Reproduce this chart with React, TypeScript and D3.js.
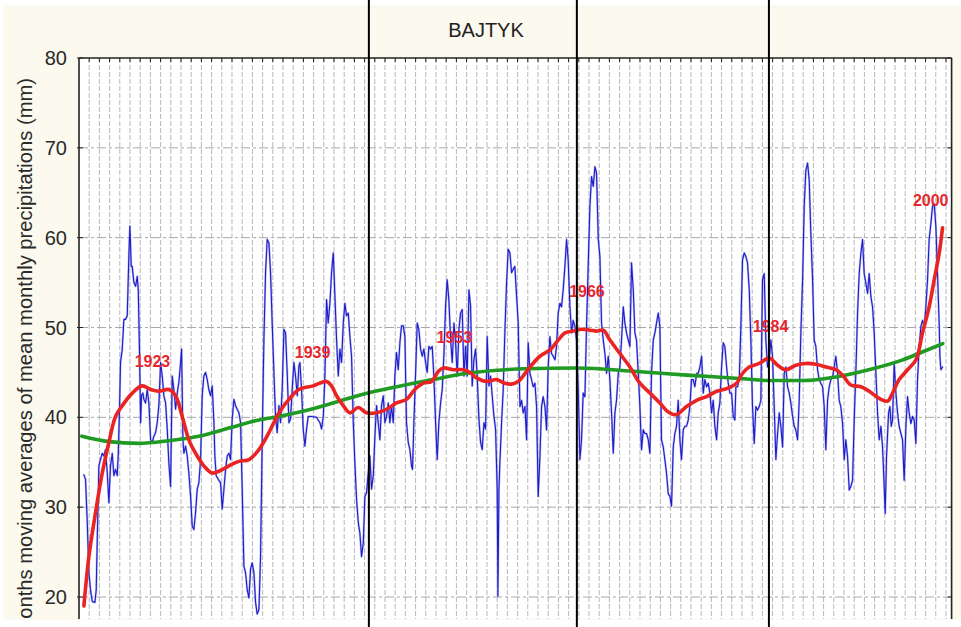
import React from 'react';
import * as d3 from 'd3';

const TITLE = 'BAJTYK';
const Y_LABEL = '12 months moving averages of mean monthly precipitations (mm)';
const yTicks = [20, 30, 40, 50, 60, 70, 80];
const gridYears = d3.range(1917, 2002);
const breakYears = [1944.42, 1964.81, 1983.64];

// 12-month moving average (year, mm)
const blueSeries: [number, number][] = [
  [1916.48, 33.6], [1916.64, 33.1], [1916.81, 28.3], [1916.97, 22.7], [1917.13, 20.8], [1917.30, 19.5],
  [1917.56, 19.4], [1917.69, 20.8], [1917.79, 26.4], [1917.95, 34.6], [1918.11, 35.3], [1918.28, 36.0],
  [1918.44, 35.7], [1918.60, 36.4], [1918.77, 33.8], [1918.93, 30.5], [1919.09, 34.6], [1919.26, 36.0],
  [1919.42, 33.5], [1919.58, 34.2], [1919.75, 33.5], [1919.85, 36.0], [1919.98, 41.3], [1920.07, 46.1],
  [1920.24, 47.6], [1920.40, 50.9], [1920.57, 50.9], [1920.73, 51.3], [1920.89, 58.0], [1920.99, 61.3],
  [1921.12, 56.8], [1921.22, 56.8], [1921.38, 55.0], [1921.55, 54.6], [1921.71, 55.7], [1921.81, 54.2],
  [1921.94, 46.8], [1922.04, 39.4], [1922.13, 42.4], [1922.26, 42.7], [1922.36, 42.0], [1922.53, 41.6],
  [1922.69, 43.1], [1922.85, 41.6], [1923.02, 37.5], [1923.18, 37.2], [1923.34, 37.9], [1923.51, 38.3],
  [1923.67, 39.4], [1923.83, 41.3], [1924.00, 46.1], [1924.16, 44.6], [1924.32, 42.4], [1924.49, 41.6],
  [1924.65, 38.7], [1924.81, 34.9], [1924.98, 32.3], [1925.14, 44.6], [1925.30, 43.1], [1925.47, 40.9],
  [1925.63, 42.7], [1925.79, 43.9], [1925.96, 46.1], [1926.06, 47.6], [1926.19, 37.5], [1926.28, 36.0],
  [1926.45, 36.8], [1926.61, 35.7], [1926.77, 33.8], [1926.94, 31.2], [1927.10, 27.9], [1927.26, 27.5],
  [1927.43, 29.4], [1927.59, 32.0], [1927.75, 32.7], [1927.92, 35.3], [1928.08, 42.4], [1928.24, 44.6],
  [1928.41, 45.0], [1928.57, 44.2], [1928.73, 43.1], [1928.90, 42.4], [1929.06, 43.5], [1929.23, 39.4],
  [1929.32, 35.7], [1929.45, 33.5], [1929.65, 33.1], [1929.88, 32.7], [1930.04, 29.8], [1930.21, 32.0],
  [1930.37, 34.2], [1930.53, 35.7], [1930.70, 36.0], [1930.86, 35.3], [1931.02, 39.8], [1931.19, 42.0],
  [1931.35, 41.3], [1931.51, 40.9], [1931.68, 40.5], [1931.84, 39.4], [1932.00, 32.0], [1932.17, 23.4],
  [1932.33, 22.7], [1932.49, 20.8], [1932.66, 19.9], [1932.82, 23.1], [1932.98, 23.8], [1933.15, 22.7],
  [1933.31, 19.4], [1933.47, 18.1], [1933.64, 18.6], [1933.80, 24.5], [1933.96, 37.5], [1934.13, 48.7],
  [1934.29, 56.1], [1934.45, 59.8], [1934.62, 59.4], [1934.78, 56.1], [1934.94, 50.5], [1935.11, 45.0],
  [1935.27, 40.1], [1935.43, 38.3], [1935.60, 41.3], [1935.76, 39.4], [1935.92, 43.1], [1936.09, 49.8],
  [1936.25, 49.4], [1936.41, 45.0], [1936.58, 39.4], [1936.74, 39.8], [1936.90, 43.1], [1937.07, 46.1],
  [1937.23, 44.6], [1937.40, 42.4], [1937.56, 45.7], [1937.66, 46.1], [1937.82, 43.1], [1937.98, 38.7],
  [1938.15, 36.8], [1938.31, 38.7], [1938.47, 40.1], [1938.80, 40.1], [1939.29, 40.0], [1939.62, 39.4],
  [1939.78, 38.7], [1939.95, 40.1], [1940.11, 44.6], [1940.27, 53.1], [1940.43, 50.5], [1940.60, 52.7],
  [1940.76, 56.1], [1940.93, 58.3], [1941.09, 53.5], [1941.25, 48.7], [1941.42, 44.6], [1941.58, 47.6],
  [1941.74, 46.1], [1941.91, 50.5], [1942.07, 52.7], [1942.23, 51.3], [1942.40, 51.6], [1942.56, 49.0],
  [1942.72, 46.8], [1942.89, 39.4], [1943.05, 34.9], [1943.21, 30.9], [1943.38, 28.3], [1943.54, 27.1],
  [1943.70, 24.5], [1943.87, 26.0], [1944.03, 31.2], [1944.19, 31.6], [1944.36, 33.8], [1944.52, 35.7],
  [1944.68, 32.0], [1944.85, 33.5], [1945.01, 37.9], [1945.17, 41.3], [1945.34, 39.4], [1945.50, 37.5],
  [1945.66, 41.3], [1945.83, 42.4], [1945.99, 39.4], [1946.15, 40.1], [1946.32, 41.6], [1946.48, 39.4],
  [1946.64, 41.3], [1946.81, 39.4], [1946.97, 44.6], [1947.13, 47.2], [1947.30, 45.3], [1947.46, 48.3],
  [1947.62, 50.2], [1947.79, 50.2], [1947.95, 49.0], [1948.11, 39.4], [1948.28, 37.2], [1948.44, 36.4],
  [1948.60, 34.6], [1948.70, 34.2], [1948.83, 39.4], [1948.99, 44.6], [1949.16, 50.5], [1949.32, 49.8],
  [1949.49, 47.6], [1949.65, 46.8], [1949.81, 47.6], [1949.98, 46.1], [1950.14, 45.0], [1950.30, 47.9],
  [1950.47, 47.6], [1950.63, 47.9], [1950.79, 44.6], [1950.96, 39.4], [1951.12, 35.3], [1951.28, 39.4],
  [1951.45, 41.6], [1951.61, 43.1], [1951.77, 46.8], [1951.94, 52.4], [1952.10, 55.3], [1952.26, 53.1],
  [1952.43, 48.7], [1952.59, 46.1], [1952.76, 50.5], [1952.92, 48.3], [1953.08, 44.6], [1953.25, 49.8],
  [1953.41, 51.6], [1953.57, 52.0], [1953.74, 44.6], [1953.90, 47.9], [1954.06, 44.6], [1954.23, 54.2],
  [1954.39, 52.4], [1954.55, 43.5], [1954.72, 46.4], [1954.88, 47.6], [1955.04, 44.6], [1955.21, 39.8],
  [1955.37, 37.2], [1955.53, 36.4], [1955.70, 39.4], [1955.86, 38.7], [1956.02, 49.0], [1956.19, 43.5],
  [1956.35, 44.6], [1956.51, 42.4], [1956.68, 40.1], [1956.84, 38.7], [1957.00, 32.0], [1957.07, 20.1],
  [1957.17, 32.0], [1957.26, 34.9], [1957.43, 39.4], [1957.59, 43.1], [1957.75, 49.4], [1957.92, 55.0],
  [1958.08, 58.7], [1958.25, 58.3], [1958.41, 56.1], [1958.57, 56.5], [1958.73, 56.8], [1958.90, 53.5],
  [1959.06, 50.5], [1959.23, 41.2], [1959.39, 41.9], [1959.55, 40.5], [1959.72, 41.2], [1959.88, 37.5],
  [1960.04, 48.3], [1960.21, 44.9], [1960.37, 44.2], [1960.53, 43.4], [1960.70, 43.8], [1960.86, 41.2],
  [1961.02, 31.2], [1961.19, 35.6], [1961.35, 41.2], [1961.51, 42.3], [1961.68, 41.2], [1961.84, 38.6],
  [1962.00, 45.6], [1962.17, 49.0], [1962.33, 47.1], [1962.49, 46.8], [1962.66, 46.4], [1962.82, 47.9],
  [1962.98, 51.6], [1963.15, 52.7], [1963.31, 52.3], [1963.47, 54.2], [1963.64, 56.8], [1963.80, 59.8],
  [1963.96, 57.5], [1964.13, 52.3], [1964.29, 49.4], [1964.45, 50.8], [1964.62, 50.1], [1964.78, 48.6],
  [1964.94, 43.4], [1965.11, 35.3], [1965.27, 37.5], [1965.43, 42.7], [1965.60, 42.3], [1965.76, 50.1],
  [1965.92, 56.8], [1966.09, 63.5], [1966.25, 66.8], [1966.42, 65.7], [1966.58, 67.9], [1966.74, 67.2],
  [1966.91, 59.8], [1967.07, 57.9], [1967.23, 50.5], [1967.40, 48.6], [1967.56, 47.1], [1967.72, 44.9],
  [1967.89, 46.8], [1968.05, 44.2], [1968.21, 40.5], [1968.38, 36.0], [1968.54, 40.5], [1968.70, 41.9],
  [1968.87, 44.9], [1969.03, 45.6], [1969.19, 48.6], [1969.36, 52.3], [1969.52, 50.5], [1969.68, 49.4],
  [1969.85, 48.6], [1970.01, 47.9], [1970.17, 57.2], [1970.34, 54.2], [1970.50, 49.4], [1970.66, 48.6],
  [1970.83, 44.9], [1970.99, 41.2], [1971.15, 36.4], [1971.32, 38.6], [1971.48, 38.2], [1971.64, 38.2],
  [1971.81, 37.5], [1971.97, 36.0], [1972.13, 44.9], [1972.30, 48.6], [1972.46, 49.4], [1972.62, 50.5],
  [1972.79, 51.6], [1972.95, 50.1], [1973.11, 37.5], [1973.28, 36.7], [1973.44, 35.3], [1973.60, 33.8],
  [1973.77, 31.5], [1973.93, 31.2], [1974.09, 30.1], [1974.26, 36.7], [1974.42, 38.2], [1974.58, 39.0],
  [1974.75, 41.9], [1974.91, 37.5], [1975.07, 35.3], [1975.24, 38.6], [1975.40, 39.0], [1975.56, 39.0],
  [1975.73, 39.7], [1975.89, 41.2], [1976.05, 44.2], [1976.22, 44.2], [1976.38, 43.4], [1976.55, 44.9],
  [1976.71, 44.9], [1976.87, 45.6], [1977.04, 46.8], [1977.20, 42.7], [1977.36, 44.2], [1977.53, 43.4],
  [1977.69, 43.8], [1977.85, 42.7], [1978.02, 40.5], [1978.18, 41.9], [1978.34, 39.0], [1978.51, 37.5],
  [1978.67, 40.5], [1978.83, 41.6], [1979.00, 45.6], [1979.16, 48.3], [1979.32, 47.9], [1979.49, 45.6],
  [1979.65, 43.8], [1979.81, 42.7], [1979.98, 42.7], [1980.14, 40.1], [1980.30, 39.7], [1980.40, 43.4],
  [1980.56, 43.4], [1980.73, 44.2], [1980.89, 50.1], [1981.05, 57.5], [1981.22, 58.3], [1981.38, 57.9],
  [1981.54, 57.2], [1981.71, 54.2], [1981.87, 48.6], [1982.03, 41.2], [1982.20, 37.1], [1982.36, 41.2],
  [1982.52, 40.8], [1982.69, 41.2], [1982.85, 41.9], [1983.01, 55.3], [1983.18, 56.0], [1983.34, 48.6],
  [1983.50, 45.6], [1983.67, 46.4], [1983.83, 48.6], [1983.99, 46.8], [1984.16, 41.2], [1984.32, 35.3],
  [1984.49, 38.2], [1984.65, 40.5], [1984.81, 39.0], [1984.98, 36.7], [1985.14, 44.9], [1985.30, 45.6],
  [1985.47, 43.4], [1985.63, 42.7], [1985.79, 41.6], [1985.96, 40.1], [1986.12, 39.0], [1986.28, 38.6],
  [1986.45, 37.5], [1986.61, 41.9], [1986.77, 49.4], [1986.94, 55.3], [1987.10, 63.5], [1987.26, 67.5],
  [1987.43, 68.3], [1987.59, 66.4], [1987.75, 60.5], [1987.92, 55.3], [1988.08, 48.6], [1988.24, 47.9],
  [1988.41, 45.3], [1988.57, 44.2], [1988.73, 43.8], [1988.90, 43.4], [1989.06, 41.2], [1989.22, 36.4],
  [1989.39, 41.9], [1989.55, 43.4], [1989.71, 44.2], [1989.88, 44.5], [1990.04, 45.6], [1990.20, 46.8],
  [1990.37, 44.9], [1990.53, 41.9], [1990.69, 41.2], [1990.86, 39.3], [1991.02, 35.3], [1991.18, 37.5],
  [1991.35, 35.6], [1991.51, 31.9], [1991.67, 32.3], [1991.84, 33.0], [1992.00, 39.7], [1992.16, 44.9],
  [1992.33, 51.6], [1992.49, 56.0], [1992.66, 58.3], [1992.82, 59.8], [1992.98, 56.0], [1993.15, 54.9],
  [1993.31, 53.8], [1993.47, 56.0], [1993.64, 53.4], [1993.80, 52.3], [1993.96, 49.4], [1994.13, 44.9],
  [1994.29, 40.5], [1994.45, 37.5], [1994.62, 39.0], [1994.78, 36.7], [1994.94, 32.3], [1995.04, 29.3],
  [1995.17, 35.6], [1995.37, 40.5], [1995.50, 41.2], [1995.63, 39.0], [1995.76, 39.7], [1995.92, 46.0],
  [1996.09, 42.7], [1996.25, 40.5], [1996.41, 39.0], [1996.58, 38.2], [1996.74, 37.5], [1996.90, 33.0],
  [1997.07, 39.0], [1997.23, 42.3], [1997.39, 40.5], [1997.56, 39.3], [1997.72, 40.1], [1997.88, 39.7],
  [1998.05, 37.1], [1998.21, 44.2], [1998.37, 47.9], [1998.54, 50.1], [1998.70, 50.8], [1998.86, 50.1],
  [1999.03, 52.3], [1999.19, 55.3], [1999.35, 59.8], [1999.52, 61.6], [1999.68, 63.5], [1999.84, 63.8],
  [2000.01, 61.2], [2000.17, 56.0], [2000.34, 50.1], [2000.40, 46.8], [2000.50, 45.3], [2000.66, 45.6],
];

// smoothed curve (red)
const redSeries: [number, number][] = [
  [1916.48, 19.0], [1916.97, 24.5], [1917.62, 29.4], [1918.28, 33.8], [1918.93, 37.2], [1919.58, 40.1],
  [1920.24, 41.3], [1921.22, 42.7], [1922.20, 43.5], [1923.02, 43.1], [1923.83, 42.9], [1924.81, 43.1],
  [1925.47, 42.4], [1926.12, 40.1], [1926.77, 37.5], [1927.43, 36.0], [1928.24, 34.6], [1929.06, 33.8],
  [1929.72, 34.0], [1930.70, 34.6], [1931.68, 35.1], [1932.66, 35.3], [1933.64, 36.4], [1934.62, 38.3],
  [1935.60, 40.5], [1936.58, 42.0], [1937.56, 43.1], [1938.96, 43.5], [1940.27, 44.0], [1940.76, 43.5],
  [1941.25, 42.4], [1941.91, 41.3], [1942.56, 40.5], [1943.38, 41.1], [1944.19, 40.5], [1945.17, 40.5],
  [1946.15, 40.9], [1947.13, 41.6], [1948.11, 42.0], [1948.93, 43.1], [1949.75, 43.8], [1950.57, 44.0],
  [1951.22, 45.1], [1951.71, 45.5], [1952.69, 45.3], [1953.67, 45.3], [1954.32, 45.0], [1954.98, 44.4],
  [1955.96, 44.0], [1956.94, 44.2], [1957.75, 43.8], [1958.41, 43.7], [1959.06, 44.0], [1960.21, 45.6],
  [1961.19, 46.8], [1962.17, 47.5], [1962.98, 48.6], [1963.64, 49.4], [1964.45, 49.6], [1965.27, 49.8],
  [1966.09, 49.7], [1966.74, 49.6], [1967.40, 49.7], [1968.05, 48.6], [1969.03, 47.1], [1970.01, 45.6],
  [1970.99, 43.8], [1971.97, 42.7], [1972.95, 41.6], [1973.77, 40.6], [1974.58, 40.3], [1975.56, 41.2],
  [1976.55, 41.9], [1977.53, 42.3], [1978.51, 42.9], [1979.49, 43.2], [1980.47, 43.8], [1981.05, 44.9],
  [1981.71, 45.6], [1982.69, 46.0], [1983.67, 46.6], [1984.49, 45.8], [1985.30, 45.3], [1986.28, 45.8],
  [1987.26, 46.0], [1988.24, 45.9], [1989.22, 45.6], [1990.20, 45.3], [1990.86, 44.7], [1991.67, 43.6],
  [1992.66, 43.4], [1993.47, 42.9], [1994.45, 42.1], [1995.27, 41.8], [1995.76, 42.7], [1996.41, 44.2],
  [1997.23, 45.3], [1998.05, 46.4], [1998.70, 49.4], [1999.35, 52.3], [1999.84, 55.3], [2000.34, 58.3],
  [2000.66, 61.1],
];

// polynomial trend (green)
const greenSeries: [number, number][] = [
  [1916.28, 37.9], [1918.93, 37.3], [1921.87, 37.1], [1924.81, 37.4], [1927.75, 37.9], [1930.70, 38.8],
  [1933.64, 39.7], [1935.60, 40.1], [1938.05, 40.7], [1944.32, 42.7], [1950.69, 44.2], [1954.02, 44.9],
  [1959.71, 45.4], [1964.81, 45.5], [1970.70, 45.1], [1975.60, 44.7], [1981.09, 44.3], [1983.64, 44.1],
  [1986.97, 44.1], [1990.21, 44.5], [1993.44, 45.3], [1996.77, 46.4], [1998.73, 47.3], [2000.69, 48.2],
];

const peakLabels = [
  { text: '1923', year: 1923.2, value: 45.6 },
  { text: '1939', year: 1938.9, value: 46.6 },
  { text: '1953', year: 1952.8, value: 48.3 },
  { text: '1966', year: 1965.8, value: 53.4 },
  { text: '1984', year: 1983.8, value: 49.5 },
  { text: '2000', year: 1999.5, value: 63.5 },
];

const W = 961;
const H = 627;
const PLOT = { left: 79, right: 951.6, top: 58, bottom: 619 };
const CROP_Y = 620;
const FONT = '"Liberation Sans", Arial, sans-serif';

export default function App() {
  const x = d3.scaleLinear().domain([1916, 2001.55]).range([PLOT.left, PLOT.right]);
  const y = d3.scaleLinear().domain([20, 80]).range([597, 58]);

  const mk = (curve: d3.CurveFactory) =>
    d3.line<[number, number]>().x((d) => x(d[0])).y((d) => y(d[1])).curve(curve);
  const bluePath = mk(d3.curveLinear)(blueSeries) || '';
  const redPath = mk(d3.curveCatmullRom.alpha(0.5))(redSeries) || '';
  const greenPath = mk(d3.curveMonotoneX)(greenSeries) || '';

  return (
    <svg width={W} height={H} style={{ position: 'absolute', left: 0, top: 0, display: 'block' }} fontFamily={FONT}>
      <defs>
        <clipPath id="plotClip">
          <rect x={PLOT.left} y={PLOT.top} width={PLOT.right - PLOT.left} height={PLOT.bottom - PLOT.top} />
        </clipPath>
        <clipPath id="cropClip">
          <rect x={0} y={0} width={W} height={CROP_Y} />
        </clipPath>
      </defs>
      <rect x={0} y={0} width={W} height={H} fill="#ffffff" />
      <rect x={3} y={5} width={W - 3} height={CROP_Y - 5} fill="#fcf9ef" />
      <rect x={PLOT.left} y={PLOT.top} width={PLOT.right - PLOT.left} height={PLOT.bottom - PLOT.top} fill="#ffffff" />

      {/* vertical grid */}
      <g stroke="#b8b8b8" strokeWidth={1} strokeDasharray="5 2">
        {gridYears.map((yr) => (
          <line key={yr} x1={x(yr)} x2={x(yr)} y1={PLOT.top} y2={PLOT.bottom} />
        ))}
      </g>
      {/* horizontal grid */}
      <g stroke="#a8a8a8" strokeWidth={1} strokeDasharray="9 3 3 3">
        {yTicks.filter((t) => t < 80).map((t) => (
          <line key={t} x1={PLOT.left} x2={PLOT.right} y1={y(t)} y2={y(t)} />
        ))}
      </g>

      {/* ticks */}
      <g stroke="#222" strokeWidth={1}>
        {gridYears.map((yr) => (
          <line key={yr} x1={x(yr)} x2={x(yr)} y1={PLOT.top} y2={PLOT.top + 4} />
        ))}
        {yTicks.map((t) => (
          <g key={t}>
            <line x1={PLOT.left - 2} x2={PLOT.left + 4} y1={y(t)} y2={y(t)} />
            <line x1={PLOT.right - 4} x2={PLOT.right} y1={y(t)} y2={y(t)} />
          </g>
        ))}
      </g>

      {/* series */}
      <g clipPath="url(#plotClip)" fill="none" strokeLinejoin="round" strokeLinecap="round">
        <path d={bluePath} stroke="#8c8cf0" strokeWidth={2.2} opacity={0.6} />
        <path d={bluePath} stroke="#1c1cc8" strokeWidth={1.1} />
        <path d={greenPath} stroke="#1f9a22" strokeWidth={3.6} />
        <path d={redPath} stroke="#ea2323" strokeWidth={3.6} />
      </g>

      {/* peak labels */}
      <g fill="#e8262b" fontWeight="bold" fontSize={16} textAnchor="middle">
        {peakLabels.map((p) => (
          <text key={p.text} x={x(p.year)} y={y(p.value)}>
            {p.text}
          </text>
        ))}
      </g>

      {/* plot frame */}
      <g stroke="#222" strokeWidth={1.6} fill="none">
        <line x1={PLOT.left} x2={PLOT.left} y1={PLOT.top} y2={PLOT.bottom} />
        <line x1={PLOT.left} x2={PLOT.right} y1={PLOT.top} y2={PLOT.top} />
        <line x1={PLOT.right} x2={PLOT.right} y1={PLOT.top} y2={PLOT.bottom} />
      </g>

      {/* y tick labels */}
      <g fill="#2a2a2a" fontSize={20} textAnchor="end">
        {yTicks.map((t) => (
          <text key={t} x={67} y={y(t)} dominantBaseline="central">
            {t}
          </text>
        ))}
      </g>

      {/* y axis label (cropped at the bottom like the source image) */}
      <g clipPath="url(#cropClip)">
        <text transform={`translate(32, 78) rotate(-90)`} textAnchor="end" fontSize={20.2} fill="#2a2a2a">
          {Y_LABEL}
        </text>
      </g>

      {/* title */}
      <text x={486} y={37} textAnchor="middle" fontSize={20} fill="#222">
        {TITLE}
      </text>

      {/* break lines */}
      <g stroke="#000" strokeWidth={2}>
        {breakYears.map((b) => (
          <line key={b} x1={x(b)} x2={x(b)} y1={0} y2={H} />
        ))}
      </g>
    </svg>
  );
}
